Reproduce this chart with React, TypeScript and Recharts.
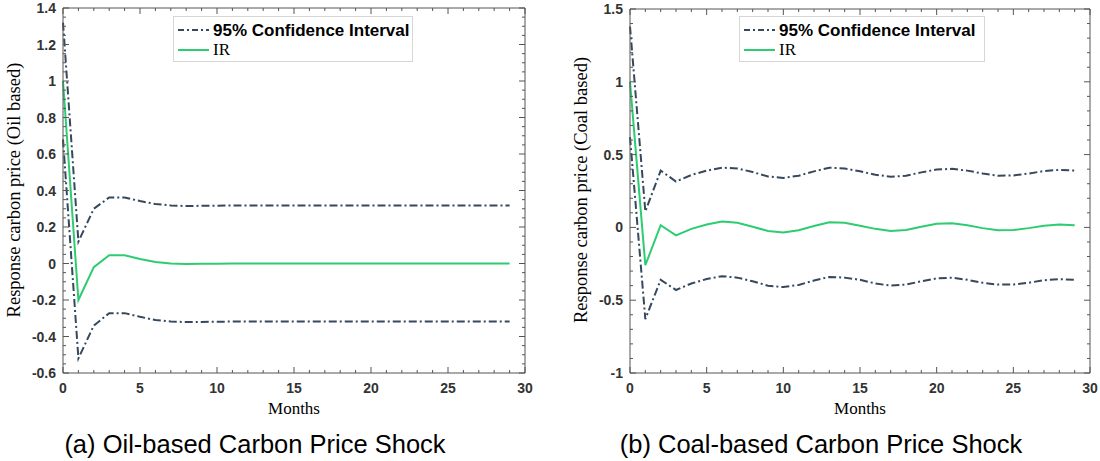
import React from 'react'
import { LineChart, Line, XAxis, YAxis } from 'recharts'

// impulse responses over 30 months
const months = [0, 1, 2, 3, 4, 5, 6, 7, 8, 9, 10, 11, 12, 13, 14, 15, 16, 17, 18, 19, 20, 21, 22, 23, 24, 25, 26, 27, 28, 29]

const oilIR = [1.0, -0.2, -0.02, 0.045, 0.045, 0.025, 0.008, 0.0, -0.003, -0.002, -0.001, 0, 0, 0, 0, 0, 0, 0, 0, 0, 0, 0, 0, 0, 0, 0, 0, 0, 0, 0]
const oilUpper = [1.32, 0.12, 0.3, 0.362, 0.362, 0.342, 0.326, 0.318, 0.315, 0.316, 0.317, 0.318, 0.318, 0.318, 0.318, 0.318, 0.318, 0.318, 0.318, 0.318, 0.318, 0.318, 0.318, 0.318, 0.318, 0.318, 0.318, 0.318, 0.318, 0.318]
const oilLower = [0.68, -0.52, -0.34, -0.272, -0.272, -0.292, -0.31, -0.318, -0.321, -0.32, -0.319, -0.318, -0.318, -0.318, -0.318, -0.318, -0.318, -0.318, -0.318, -0.318, -0.318, -0.318, -0.318, -0.318, -0.318, -0.318, -0.318, -0.318, -0.318, -0.318]

const coalIR = [1.0, -0.26, 0.015, -0.055, -0.01, 0.02, 0.04, 0.032, 0.005, -0.025, -0.035, -0.02, 0.01, 0.035, 0.032, 0.012, -0.01, -0.025, -0.018, 0.005, 0.025, 0.028, 0.015, -0.005, -0.02, -0.018, -0.005, 0.012, 0.02, 0.015]
const coalUpper = [1.38, 0.11, 0.39, 0.315, 0.36, 0.39, 0.41, 0.405, 0.38, 0.35, 0.34, 0.355, 0.385, 0.41, 0.405, 0.385, 0.362, 0.348, 0.355, 0.378, 0.398, 0.402, 0.39, 0.37, 0.355, 0.357, 0.37, 0.387, 0.395, 0.39]
const coalLower = [0.62, -0.63, -0.36, -0.43, -0.385, -0.355, -0.335, -0.345, -0.37, -0.4, -0.41, -0.395, -0.365, -0.34, -0.345, -0.36, -0.385, -0.4, -0.393, -0.37, -0.35, -0.345, -0.36, -0.38, -0.393, -0.392, -0.38, -0.363, -0.355, -0.36]

// axis ticks
const monthLabels = [0, 5, 10, 15, 20, 25, 30]
const oilYLabels = [-0.6, -0.4, -0.2, 0, 0.2, 0.4, 0.6, 0.8, 1, 1.2, 1.4]
const coalYLabels = [-1, -0.5, 0, 0.5, 1, 1.5]

const range = (from: number, to: number, step: number) => {
  const n = Math.round((to - from) / step)
  return Array.from({ length: n + 1 }, (_, i) => Math.round((from + i * step) * 1000) / 1000)
}
const monthTicks = range(0, 30, 1)
const oilYTicks = range(-0.6, 1.4, 0.05)
const coalYTicks = range(-1, 1.5, 0.1)

const NAVY = '#34495e'
const GREEN = '#2ecc71'
const AXIS = '#555'
const DASH_DOT = '8 3 2 3'
const TICK_FONT = { fontFamily: 'Liberation Sans, Arial, sans-serif', fontWeight: 700, fontSize: 14, fill: '#333' }
const SERIF = 'Liberation Serif, Times New Roman, serif'
const CHART_H = 420
const X_AXIS_H = 47

const isMajor = (v: number, labels: number[]) => labels.some(l => Math.abs(l - v) < 1e-6)

// top axis draws inward ticks on both the top and bottom edges
function makeXTicks(labels: number[], plotH: number) {
  return (props: any) => {
    const x = Number(props.x)
    const y = Number(props.y)
    const len = isMajor(props.payload.value, labels) ? 6 : 3
    return (
      <g>
        <path d={`M${x},${y}L${x},${y + len}M${x},${y + plotH}L${x},${y + plotH - len}`} stroke={AXIS} fill="none" />
      </g>
    )
  }
}

// right axis draws inward ticks on both the right and left edges
function makeYTicks(labels: number[], plotW: number) {
  return (props: any) => {
    const x = Number(props.x)
    const y = Number(props.y)
    const len = isMajor(props.payload.value, labels) ? 6 : 3
    return (
      <g>
        <path d={`M${x},${y}L${x - len},${y}M${x - plotW},${y}L${x - plotW + len},${y}`} stroke={AXIS} fill="none" />
      </g>
    )
  }
}

function bottomLabel(labels: number[]) {
  return (props: any) =>
    isMajor(props.payload.value, labels)
      ? <text x={props.x} y={Number(props.y) + 20} textAnchor="middle" {...TICK_FONT}>{props.payload.value}</text>
      : <g />
}

function leftLabel(labels: number[]) {
  return (props: any) =>
    isMajor(props.payload.value, labels)
      ? <text x={Number(props.x) - 7} y={Number(props.y) + 5} textAnchor="end" {...TICK_FONT}>{props.payload.value}</text>
      : <g />
}

function Legend({ left, width }: { left: number; width: number }) {
  return (
    <div style={{ position: 'absolute', left, top: 16, width, height: 44, border: '1px solid #d6d6d6', background: '#fff' }}>
      <svg width={40} height={44} style={{ position: 'absolute', left: 0, top: 0 }}>
        <line x1={4} x2={35} y1={13} y2={13} stroke={NAVY} strokeWidth={2} strokeDasharray="6 3 2 3" />
        <line x1={4} x2={35} y1={33} y2={33} stroke={GREEN} strokeWidth={2} />
      </svg>
      <div style={{ position: 'absolute', left: 39, top: 4, fontFamily: 'Liberation Sans, Arial, sans-serif', fontWeight: 700, fontSize: 17, color: '#000', whiteSpace: 'nowrap' }}>
        95% Confidence Interval
      </div>
      <div style={{ position: 'absolute', left: 39, top: 23, fontFamily: SERIF, fontSize: 17, color: '#000' }}>IR</div>
    </div>
  )
}

interface PanelProps {
  left: number
  width: number
  yWidth: number
  marginRight: number
  marginTop: number
  ir: number[]
  upper: number[]
  lower: number[]
  yDomain: [number, number]
  yTicks: number[]
  yLabels: number[]
  yTitle: string
  caption: string
  captionCenter: number
  legendLeft: number
  legendWidth: number
}

function Panel(p: PanelProps) {
  const rows = months.map((m, i) => ({ month: m, ir: p.ir[i], upper: p.upper[i], lower: p.lower[i] }))
  const plotLeft = p.left + p.yWidth
  const plotRight = p.left + p.width - p.marginRight - 1
  const plotW = plotRight - plotLeft
  const plotH = CHART_H - p.marginTop - 1 - X_AXIS_H
  return (
    <>
      <div style={{ position: 'absolute', left: p.left, top: 0 }}>
        <LineChart width={p.width} height={CHART_H} data={rows} margin={{ top: p.marginTop, right: p.marginRight, bottom: 0, left: 0 }}>
          <XAxis xAxisId="b" dataKey="month" type="number" orientation="bottom" domain={[0, 30]} ticks={monthTicks} interval={0}
            height={X_AXIS_H} tickSize={0} tickMargin={0} tickLine={false} axisLine={{ stroke: AXIS }} tick={bottomLabel(monthLabels)} />
          <XAxis xAxisId="t" dataKey="month" type="number" orientation="top" domain={[0, 30]} ticks={monthTicks} interval={0}
            height={1} tickSize={0} tickMargin={0} tickLine={false} axisLine={{ stroke: AXIS }} tick={makeXTicks(monthLabels, plotH)} />
          <YAxis yAxisId="l" type="number" orientation="left" domain={p.yDomain} ticks={p.yTicks} interval={0}
            width={p.yWidth} tickSize={0} tickMargin={0} tickLine={false} axisLine={{ stroke: AXIS }} tick={leftLabel(p.yLabels)} />
          <YAxis yAxisId="r" type="number" orientation="right" domain={p.yDomain} ticks={p.yTicks} interval={0}
            width={1} tickSize={0} tickMargin={0} tickLine={false} axisLine={{ stroke: AXIS }} tick={makeYTicks(p.yLabels, plotW)} />
          <Line xAxisId="b" yAxisId="l" type="linear" dataKey="upper" stroke={NAVY} strokeWidth={2} strokeDasharray={DASH_DOT} dot={false} isAnimationActive={false} />
          <Line xAxisId="b" yAxisId="l" type="linear" dataKey="lower" stroke={NAVY} strokeWidth={2} strokeDasharray={DASH_DOT} dot={false} isAnimationActive={false} />
          <Line xAxisId="b" yAxisId="l" type="linear" dataKey="ir" stroke={GREEN} strokeWidth={2} dot={false} isAnimationActive={false} />
          {/* invisible series so the top/right axes get a scale */}
          <Line xAxisId="t" yAxisId="r" type="linear" dataKey="ir" stroke="none" dot={false} legendType="none" isAnimationActive={false} />
        </LineChart>
      </div>
      <Legend left={p.legendLeft} width={p.legendWidth} />
      <div style={{ position: 'absolute', left: p.left + p.yWidth - 49 - 150, top: 190 - 12, width: 300, height: 24, textAlign: 'center',
        transform: 'rotate(-90deg)', fontFamily: SERIF, fontSize: 18.5, lineHeight: '24px', color: '#000', whiteSpace: 'nowrap' }}>
        {p.yTitle}
      </div>
      <div style={{ position: 'absolute', left: (plotLeft + plotRight) / 2 - 50, top: 398, width: 100, textAlign: 'center',
        fontFamily: SERIF, fontSize: 17, lineHeight: '22px', color: '#000' }}>
        Months
      </div>
      <div style={{ position: 'absolute', left: p.captionCenter - 250, top: 428, width: 500, textAlign: 'center',
        fontFamily: 'Liberation Sans, Arial, sans-serif', fontSize: 25.5, lineHeight: '32px', color: '#000' }}>
        {p.caption}
      </div>
    </>
  )
}

export default function App() {
  return (
    <div style={{ position: 'absolute', left: 0, top: 0, width: 1100, height: 461, background: '#fff', overflow: 'hidden' }}>
      <Panel left={0} width={545} yWidth={63} marginRight={19} marginTop={7}
        ir={oilIR} upper={oilUpper} lower={oilLower} yDomain={[-0.6, 1.4]} yTicks={oilYTicks} yLabels={oilYLabels}
        yTitle="Response carbon price (Oil based)" caption="(a) Oil-based Carbon Price Shock" captionCenter={255}
        legendLeft={173} legendWidth={238} />
      <Panel left={560} width={540} yWidth={70} marginRight={9} marginTop={8}
        ir={coalIR} upper={coalUpper} lower={coalLower} yDomain={[-1, 1.5]} yTicks={coalYTicks} yLabels={coalYLabels}
        yTitle="Response carbon price (Coal based)" caption="(b) Coal-based Carbon Price Shock" captionCenter={821}
        legendLeft={739} legendWidth={244} />
    </div>
  )
}
